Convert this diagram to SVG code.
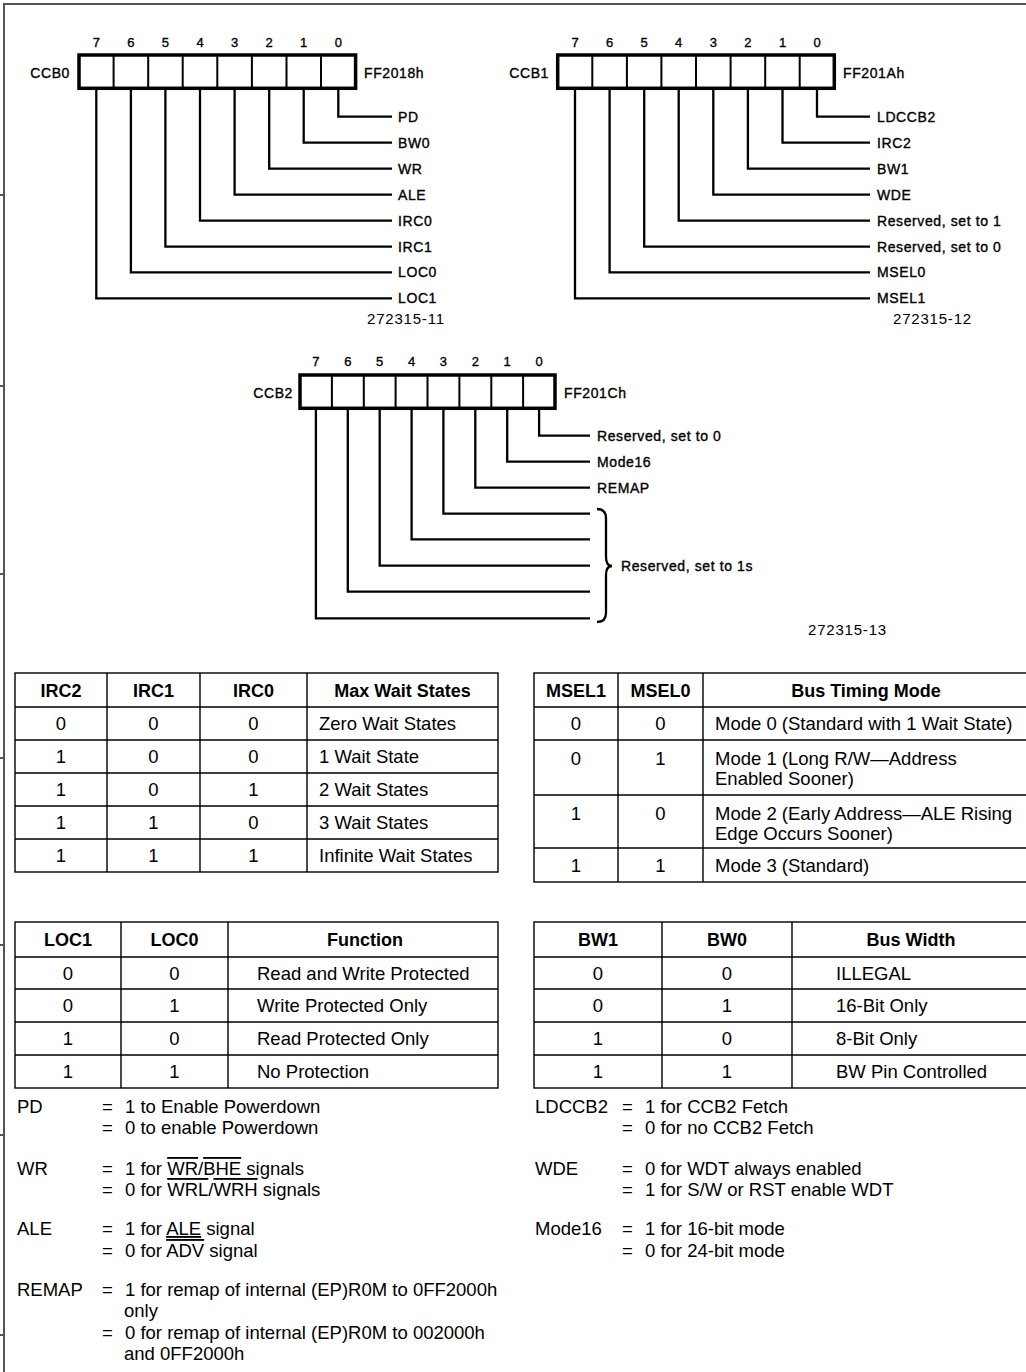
<svg xmlns="http://www.w3.org/2000/svg" width="1026" height="1372" viewBox="0 0 1026 1372">
<style>
.frame{fill:none;stroke:#555;stroke-width:2}
.box{fill:#fff;stroke:#000;stroke-width:3.5}
.div{stroke:#000;stroke-width:2}
.wire{fill:none;stroke:#000;stroke-width:2.3;stroke-linejoin:miter}
.reg{font-family:"Liberation Sans",Arial,sans-serif;font-size:14px;letter-spacing:0.6px;fill:#000;stroke:#000;stroke-width:0.35}
.bit{font-family:"Liberation Sans",Arial,sans-serif;font-size:13px;fill:#000;stroke:#000;stroke-width:0.35;text-anchor:middle}
.fig{font-family:"Liberation Sans",Arial,sans-serif;font-size:15px;letter-spacing:0.8px;fill:#000}
.tb{fill:none;stroke:#000;stroke-width:1.4}
.th{font-family:"Liberation Sans",Arial,sans-serif;font-size:18px;font-weight:bold;fill:#000;text-anchor:middle}
.td{font-family:"Liberation Sans",Arial,sans-serif;font-size:18.5px;fill:#000}
.c{text-anchor:middle}
.lg{font-family:"Liberation Sans",Arial,sans-serif;font-size:18.5px;fill:#000}
.ov{text-decoration:overline}
.ul{text-decoration:underline}
</style>

<g id="frame">
<path class="frame" d="M1026,4 H4 V1372"/>
<path class="frame" d="M0,195 H5 M0,386 H5 M0,574 H5 M0,758 H5 M0,945 H5 M0,1135 H5 M0,1335 H5" stroke-width="1"/>
</g>

<g id="connectors">
<path class="wire" d="M338.3,90 V116.7 H392"/>
<path class="wire" d="M303.7,90 V142.7 H392"/>
<path class="wire" d="M269.2,90 V168.7 H392"/>
<path class="wire" d="M234.6,90 V194.7 H392"/>
<path class="wire" d="M200,90 V220.7 H392"/>
<path class="wire" d="M165.4,90 V246.7 H392"/>
<path class="wire" d="M130.9,90 V272.3 H392"/>
<path class="wire" d="M96.3,90 V298.3 H392"/>
<path class="wire" d="M817,90 V116.7 H870"/>
<path class="wire" d="M782.5,90 V142.7 H870"/>
<path class="wire" d="M747.9,90 V168.7 H870"/>
<path class="wire" d="M713.3,90 V194.7 H870"/>
<path class="wire" d="M678.7,90 V220.7 H870"/>
<path class="wire" d="M644.2,90 V246.7 H870"/>
<path class="wire" d="M609.6,90 V272.3 H870"/>
<path class="wire" d="M575,90 V298.3 H870"/>
<path class="wire" d="M539.1,410 V435.7 H590"/>
<path class="wire" d="M507.2,410 V461.7 H590"/>
<path class="wire" d="M475.3,410 V487.7 H590"/>
<path class="wire" d="M443.4,410 V513.7 H590"/>
<path class="wire" d="M411.6,410 V539.3 H590"/>
<path class="wire" d="M379.7,410 V565.7 H590"/>
<path class="wire" d="M347.8,410 V591.7 H590"/>
<path class="wire" d="M315.9,410 V618.3 H590"/>
<path class="wire" stroke-width="2" d="M597,509 Q606,509 606,518 L606,557 Q606,566 612,566 Q606,566 606,575 L606,613 Q606,622 597,622"/>
</g>

<g id="ccb0">
<g class="bit">
<text x="96.3" y="47">7</text><text x="130.9" y="47">6</text><text x="165.4" y="47">5</text><text x="200" y="47">4</text>
<text x="234.6" y="47">3</text><text x="269.2" y="47">2</text><text x="303.7" y="47">1</text><text x="338.3" y="47">0</text>
</g>
<rect class="box" x="79" y="55" width="276.6" height="33.3"/>
<path class="div" d="M113.6,55V88.3M148.2,55V88.3M182.7,55V88.3M217.3,55V88.3M251.9,55V88.3M286.5,55V88.3M321,55V88.3"/>
<text class="reg" x="70" y="78" text-anchor="end">CCB0</text>
<text class="reg" x="364" y="78">FF2018h</text>
<g class="reg">
<text x="398" y="121.7">PD</text>
<text x="398" y="147.7">BW0</text>
<text x="398" y="173.7">WR</text>
<text x="398" y="199.7">ALE</text>
<text x="398" y="225.7">IRC0</text>
<text x="398" y="251.7">IRC1</text>
<text x="398" y="277.3">LOC0</text>
<text x="398" y="303.3">LOC1</text>
</g>
<text class="fig" x="367" y="323.5">272315-11</text>
</g>

<g id="ccb1">
<g class="bit">
<text x="575" y="47">7</text><text x="609.6" y="47">6</text><text x="644.2" y="47">5</text><text x="678.7" y="47">4</text>
<text x="713.3" y="47">3</text><text x="747.9" y="47">2</text><text x="782.5" y="47">1</text><text x="817" y="47">0</text>
</g>
<rect class="box" x="557.7" y="55" width="276.6" height="33.3"/>
<path class="div" d="M592.3,55V88.3M626.9,55V88.3M661.4,55V88.3M696,55V88.3M730.6,55V88.3M765.2,55V88.3M799.7,55V88.3"/>
<text class="reg" x="549" y="78" text-anchor="end">CCB1</text>
<text class="reg" x="843" y="78">FF201Ah</text>
<g class="reg">
<text x="877" y="121.7">LDCCB2</text>
<text x="877" y="147.7">IRC2</text>
<text x="877" y="173.7">BW1</text>
<text x="877" y="199.7">WDE</text>
<text x="877" y="225.7">Reserved, set to 1</text>
<text x="877" y="251.7">Reserved, set to 0</text>
<text x="877" y="277.3">MSEL0</text>
<text x="877" y="303.3">MSEL1</text>
</g>
<text class="fig" x="893" y="323.5">272315-12</text>
</g>

<g id="ccb2">
<g class="bit">
<text x="315.9" y="366">7</text><text x="347.8" y="366">6</text><text x="379.7" y="366">5</text><text x="411.6" y="366">4</text>
<text x="443.4" y="366">3</text><text x="475.3" y="366">2</text><text x="507.2" y="366">1</text><text x="539.1" y="366">0</text>
</g>
<rect class="box" x="300" y="375" width="255" height="33.3"/>
<path class="div" d="M331.9,375V408.3M363.8,375V408.3M395.6,375V408.3M427.5,375V408.3M459.4,375V408.3M491.3,375V408.3M523.1,375V408.3"/>
<text class="reg" x="293" y="398" text-anchor="end">CCB2</text>
<text class="reg" x="564" y="398">FF201Ch</text>
<g class="reg">
<text x="597" y="440.7">Reserved, set to 0</text>
<text x="597" y="466.7">Mode16</text>
<text x="597" y="492.7">REMAP</text>
<text x="621" y="571">Reserved, set to 1s</text>
</g>
<text class="fig" x="808" y="634.5">272315-13</text>
</g>

<g id="table-irc">
<rect class="tb" x="15" y="673" width="483" height="199"/>
<path class="tb" d="M15,707H498M15,740H498M15,773H498M15,806H498M15,839H498M107,673V872M200,673V872M307,673V872"/>
<text class="th" x="61" y="696.6">IRC2</text>
<text class="th" x="153.5" y="696.6">IRC1</text>
<text class="th" x="253.5" y="696.6">IRC0</text>
<text class="th" x="402.5" y="696.6">Max Wait States</text>
<g class="td">
<text class="c" x="61" y="730">0</text><text class="c" x="153.5" y="730">0</text><text class="c" x="253.5" y="730">0</text><text x="319" y="730">Zero Wait States</text>
<text class="c" x="61" y="763">1</text><text class="c" x="153.5" y="763">0</text><text class="c" x="253.5" y="763">0</text><text x="319" y="763">1 Wait State</text>
<text class="c" x="61" y="796">1</text><text class="c" x="153.5" y="796">0</text><text class="c" x="253.5" y="796">1</text><text x="319" y="796">2 Wait States</text>
<text class="c" x="61" y="829">1</text><text class="c" x="153.5" y="829">1</text><text class="c" x="253.5" y="829">0</text><text x="319" y="829">3 Wait States</text>
<text class="c" x="61" y="862">1</text><text class="c" x="153.5" y="862">1</text><text class="c" x="253.5" y="862">1</text><text x="319" y="862">Infinite Wait States</text>
</g>
</g>

<g id="table-msel">
<rect class="tb" x="534" y="673" width="500" height="209"/>
<path class="tb" d="M534,707H1034M534,740H1034M534,795H1034M534,848H1034M618,673V882M703,673V882"/>
<text class="th" x="576" y="696.6">MSEL1</text>
<text class="th" x="660.5" y="696.6">MSEL0</text>
<text class="th" x="866" y="696.6">Bus Timing Mode</text>
<g class="td">
<text class="c" x="576" y="730">0</text><text class="c" x="660.5" y="730">0</text><text x="715" y="730">Mode 0 (Standard with 1 Wait State)</text>
<text class="c" x="576" y="764.8">0</text><text class="c" x="660.5" y="764.8">1</text><text x="715" y="764.8">Mode 1 (Long R/W—Address</text><text x="715" y="784.8">Enabled Sooner)</text>
<text class="c" x="576" y="819.8">1</text><text class="c" x="660.5" y="819.8">0</text><text x="715" y="819.8">Mode 2 (Early Address—ALE Rising</text><text x="715" y="839.8">Edge Occurs Sooner)</text>
<text class="c" x="576" y="872">1</text><text class="c" x="660.5" y="872">1</text><text x="715" y="872">Mode 3 (Standard)</text>
</g>
</g>

<g id="table-loc">
<rect class="tb" x="15" y="922" width="483" height="166"/>
<path class="tb" d="M15,957H498M15,989H498M15,1022H498M15,1055H498M121,922V1088M228,922V1088"/>
<text class="th" x="68" y="946">LOC1</text>
<text class="th" x="174.5" y="946">LOC0</text>
<text class="th" x="365" y="946">Function</text>
<g class="td">
<text class="c" x="68" y="979.6">0</text><text class="c" x="174.5" y="979.6">0</text><text x="257" y="979.6">Read and Write Protected</text>
<text class="c" x="68" y="1012">0</text><text class="c" x="174.5" y="1012">1</text><text x="257" y="1012">Write Protected Only</text>
<text class="c" x="68" y="1045">1</text><text class="c" x="174.5" y="1045">0</text><text x="257" y="1045">Read Protected Only</text>
<text class="c" x="68" y="1078">1</text><text class="c" x="174.5" y="1078">1</text><text x="257" y="1078">No Protection</text>
</g>
</g>

<g id="table-bw">
<rect class="tb" x="534" y="922" width="500" height="166"/>
<path class="tb" d="M534,957H1034M534,989H1034M534,1022H1034M534,1055H1034M662,922V1088M792,922V1088"/>
<text class="th" x="598" y="946">BW1</text>
<text class="th" x="727" y="946">BW0</text>
<text class="th" x="911" y="946">Bus Width</text>
<g class="td">
<text class="c" x="598" y="979.6">0</text><text class="c" x="727" y="979.6">0</text><text x="836" y="979.6">ILLEGAL</text>
<text class="c" x="598" y="1012">0</text><text class="c" x="727" y="1012">1</text><text x="836" y="1012">16-Bit Only</text>
<text class="c" x="598" y="1045">1</text><text class="c" x="727" y="1045">0</text><text x="836" y="1045">8-Bit Only</text>
<text class="c" x="598" y="1078">1</text><text class="c" x="727" y="1078">1</text><text x="836" y="1078">BW Pin Controlled</text>
</g>
</g>

<g id="legend-left" class="lg">
<text x="17" y="1113">PD</text>
<text x="102" y="1113">=</text><text x="125" y="1113">1 to Enable Powerdown</text>
<text x="102" y="1134">=</text><text x="125" y="1134">0 to enable Powerdown</text>
<text x="17" y="1175">WR</text>
<text x="102" y="1175">=</text><text x="125" y="1175">1 for <tspan class="ov">WR</tspan>/<tspan class="ov">BHE</tspan> signals</text>
<text x="102" y="1196">=</text><text x="125" y="1196">0 for <tspan class="ov">WRL</tspan>/<tspan class="ov">WRH</tspan> signals</text>
<text x="17" y="1235">ALE</text>
<text x="102" y="1235">=</text><text x="125" y="1235">1 for <tspan class="ul">ALE</tspan> signal</text>
<text x="102" y="1257">=</text><text x="125" y="1257">0 for <tspan class="ov">ADV</tspan> signal</text>
<text x="17" y="1296">REMAP</text>
<text x="102" y="1296">=</text><text x="125" y="1296">1 for remap of internal (EP)R0M to 0FF2000h</text>
<text x="124" y="1317">only</text>
<text x="102" y="1339">=</text><text x="125" y="1339">0 for remap of internal (EP)R0M to 002000h</text>
<text x="124" y="1360">and 0FF2000h</text>
</g>

<g id="legend-right" class="lg">
<text x="535" y="1113">LDCCB2</text>
<text x="622" y="1113">=</text><text x="645" y="1113">1 for CCB2 Fetch</text>
<text x="622" y="1134">=</text><text x="645" y="1134">0 for no CCB2 Fetch</text>
<text x="535" y="1175">WDE</text>
<text x="622" y="1175">=</text><text x="645" y="1175">0 for WDT always enabled</text>
<text x="622" y="1196">=</text><text x="645" y="1196">1 for S/W or RST enable WDT</text>
<text x="535" y="1235">Mode16</text>
<text x="622" y="1235">=</text><text x="645" y="1235">1 for 16-bit mode</text>
<text x="622" y="1257">=</text><text x="645" y="1257">0 for 24-bit mode</text>
</g>
</svg>
